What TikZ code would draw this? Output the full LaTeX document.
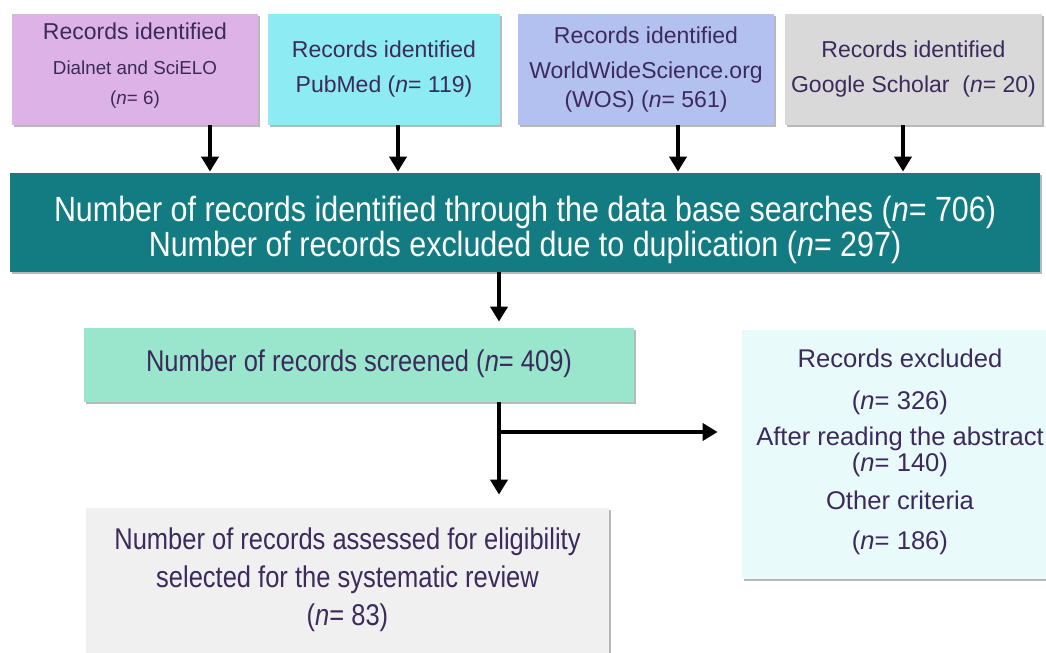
\documentclass[tikz,border=0pt]{standalone}
\usepackage{fontspec}
\setmainfont{Liberation Sans}
\newfontfamily\narrowfont{Liberation Sans}[FakeStretch=0.87]
\newfontfamily\scrfont{Liberation Sans}[FakeStretch=0.85]
\usetikzlibrary{arrows.meta,shadows}
\definecolor{cpink}{HTML}{DDB2E6}
\definecolor{ccyan}{HTML}{8DEBF3}
\definecolor{cblue}{HTML}{B3C1F1}
\definecolor{cgray}{HTML}{D9D9D9}
\definecolor{cteal}{HTML}{137C83}
\definecolor{cmint}{HTML}{99E6CC}
\definecolor{cbot}{HTML}{F0F0F0}
\definecolor{cexcl}{HTML}{E8FAFA}
\definecolor{ctext}{HTML}{3C2A5C}
\newcommand{\nn}{\textit{n}}
\tikzset{
  boxstyle/.style={rectangle, inner sep=0pt, align=center, text=ctext,
    drop shadow={shadow xshift=1.2pt, shadow yshift=-1.2pt, fill=black, opacity=0.28}},
  arr/.style={line width=2pt, -{Triangle[width=8.5pt,length=7.5pt]}},
  topfont/.style={font=\fontsize{11.5}{17.5}\selectfont},
}
\begin{document}
\begin{tikzpicture}[x=0.5pt,y=-0.5pt]
\useasboundingbox (0,0) rectangle (1046,653);
\begin{scope}
\clip (0,0) rectangle (1046,653);
% top boxes
\node[boxstyle, topfont, fill=cpink, minimum width=123pt, minimum height=55.5pt] (b1) at (135,69.5)
  {Records identified\\{\fontsize{9.4}{12}\selectfont Dialnet and SciELO}\\[-2.5pt]{\fontsize{9.4}{12}\selectfont (\nn= 6)}\\[-12pt]\mbox{}};
\node[boxstyle, topfont, fill=ccyan, minimum width=116pt, minimum height=55.5pt] (b2) at (384,69.5)
  {Records identified\\PubMed (\nn= 119)};
\node[boxstyle, topfont, fill=cblue, minimum width=128pt, minimum height=55.5pt] (b3) at (646,69.5)
  {Records identified\\WorldWideScience.org\\[-3pt](WOS) (\nn= 561)};
\node[boxstyle, topfont, fill=cgray, minimum width=128.5pt, minimum height=55.5pt] (b4) at (913.5,69.5)
  {Records identified\\Google Scholar\ \ (\nn= 20)};
% teal
\node[boxstyle, fill=cteal, text=white, minimum width=515pt, minimum height=49.5pt,
  font=\narrowfont\fontsize{17.5}{17.5}\selectfont] (teal) at (525,222.5)
  {\mbox{}\\[3pt]Number of records identified through the data base searches (\nn= 706)\\
   Number of records excluded due to duplication (\nn= 297)};
% screened
\node[boxstyle, fill=cmint, minimum width=275pt, minimum height=37pt,
  font=\scrfont\fontsize{15}{18}\selectfont] (scr) at (359,365)
  {\raisebox{4pt}{Number of records screened (\nn= 409)}};
% bottom
\node[boxstyle, fill=cbot, minimum width=261.5pt, minimum height=76pt,
  font=\scrfont\fontsize{15}{19}\selectfont] (bot) at (347.5,584)
  {Number of records assessed for eligibility\\selected for the systematic review\\(\nn= 83)\\[-12pt]\mbox{}};
% excluded
\node[boxstyle, fill=cexcl, minimum width=158pt, minimum height=124.5pt,
  font=\fontsize{12.8}{19}\selectfont] (exc) at (900,454.5)
  {Records excluded\\[2pt](\nn= 326)\\[-1pt]After reading the abstract\\[-6pt](\nn= 140)\\Other criteria\\[1pt](\nn= 186)\\[-13.5pt]\mbox{}};
\end{scope}
% arrows
\coordinate (a1) at (210,0);
\coordinate (a2) at (398,0);
\coordinate (a3) at (678,0);
\coordinate (a4) at (903,0);
\coordinate (a5) at (499,0);
\coordinate (br) at (499,432);
\draw[arr, shorten >=0.5pt] (b1.south -| a1) -- (teal.north -| a1);
\draw[arr, shorten >=0.5pt] (b2.south -| a2) -- (teal.north -| a2);
\draw[arr, shorten >=0.5pt] (b3.south -| a3) -- (teal.north -| a3);
\draw[arr, shorten >=0.5pt] (b4.south -| a4) -- (teal.north -| a4);
\draw[arr, shorten >=3pt] (teal.south -| a5) -- (scr.north -| a5);
\draw[arr, shorten >=6.5pt] (scr.south -| a5) -- (bot.north -| a5);
\draw[arr, shorten >=12pt] (br) -- (br -| exc.west);
\end{tikzpicture}
\end{document}
